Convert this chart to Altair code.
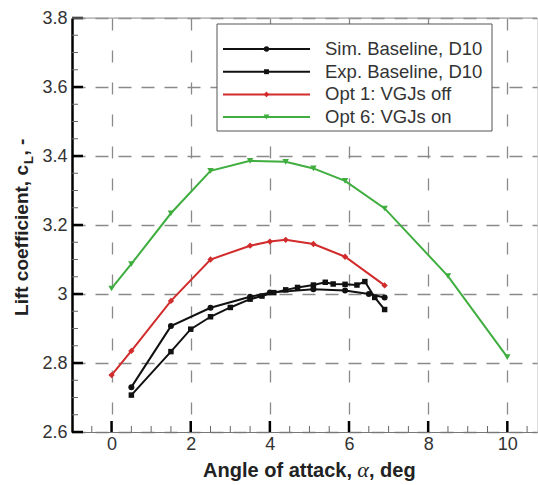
import altair as alt
import pandas as pd

# ---------------- data ----------------
series_names = ["Sim. Baseline, D10", "Exp. Baseline, D10", "Opt 1: VGJs off", "Opt 6: VGJs on"]
series_colors = ["#111111", "#111111", "#d22b2b", "#3fae3f"]
marker_shapes = ["circle", "square", "diamond", "triangle-down"]
marker_sizes = [36, 30, 40, 42]

sim_alpha = [0.5, 1.5, 2.5, 3.5, 4.0, 5.1, 5.9, 6.5, 6.9]
sim_cl = [2.73, 2.907, 2.96, 2.992, 3.004, 3.014, 3.01, 3.0, 2.99]

exp_alpha = [0.5, 1.5, 2.0, 2.5, 3.0, 3.5, 3.8, 4.1, 4.4, 4.7, 5.1, 5.4, 5.6, 5.9, 6.2, 6.4, 6.65, 6.9]
exp_cl = [2.707, 2.833, 2.898, 2.934, 2.961, 2.985, 2.994, 3.004, 3.012, 3.019, 3.026, 3.034,
          3.029, 3.028, 3.026, 3.036, 2.99, 2.955]

opt1_alpha = [0.0, 0.5, 1.5, 2.5, 3.5, 4.0, 4.4, 5.1, 5.9, 6.9]
opt1_cl = [2.765, 2.835, 2.98, 3.10, 3.14, 3.152, 3.157, 3.145, 3.108, 3.025]

opt6_alpha = [0.0, 0.5, 1.5, 2.5, 3.5, 4.4, 5.1, 5.9, 6.9, 8.5, 10.0]
opt6_cl = [3.016, 3.087, 3.234, 3.357, 3.386, 3.383, 3.364, 3.328, 3.248, 3.052, 2.817]

x_major = [0, 2, 4, 6, 8, 10]
x_minor = [-0.5, 0.5, 1, 1.5, 2.5, 3, 3.5, 4.5, 5, 5.5, 6.5, 7, 7.5, 8.5, 9, 9.5, 10.5]
y_major = [2.6, 2.8, 3.0, 3.2, 3.4, 3.6, 3.8]
y_minor = [2.65, 2.7, 2.75, 2.85, 2.9, 2.95, 3.05, 3.1, 3.15, 3.25, 3.3, 3.35,
           3.45, 3.5, 3.55, 3.65, 3.7, 3.75]

rows = []
for name, xs, ys in [(series_names[0], sim_alpha, sim_cl),
                     (series_names[1], exp_alpha, exp_cl),
                     (series_names[2], opt1_alpha, opt1_cl),
                     (series_names[3], opt6_alpha, opt6_cl)]:
    for a, c in zip(xs, ys):
        rows.append({"series": name, "alpha": a, "cl": c})
df = pd.DataFrame(rows)
legend_df = pd.DataFrame({"series": series_names, "row": list(range(len(series_names)))})

W, H = 465, 414
FONT = "Liberation Sans"

xscale = alt.Scale(domain=[-1, 10.75], nice=False, zero=False)
yscale = alt.Scale(domain=[2.6, 3.8], nice=False, zero=False)

x_axis = alt.Axis(values=x_major, title=None, ticks=False, labelPadding=3, labelFontSize=18,
                  labelFont=FONT, labelColor="#333", labelFlush=False, grid=True,
                  gridDash=[12, 20], gridColor="#8a8a8a", gridWidth=1.3,
                  domainColor="#777", domainWidth=1)
y_axis = alt.Axis(values=y_major, format="~g", title=None, ticks=False, labelPadding=5,
                  labelFontSize=18, labelFont=FONT, labelColor="#333", labelFlush=False,
                  grid=True, gridDash=[13, 10], gridColor="#8a8a8a", gridWidth=1.3,
                  domainColor="#000", domainWidth=2.5)

X = alt.X("alpha:Q", scale=xscale, axis=x_axis)
Y = alt.Y("cl:Q", scale=yscale, axis=y_axis)

stroke_scale = alt.Scale(domain=series_names, range=series_colors)

lines = alt.Chart(df).mark_line(strokeWidth=2).encode(
    x=X, y=Y,
    stroke=alt.Stroke("series:N", scale=stroke_scale, legend=None),
    detail="series:N",
)

point_layers = []
for name, col, shp, sz in zip(series_names, series_colors, marker_shapes, marker_sizes):
    point_layers.append(
        alt.Chart(df).transform_filter(alt.datum.series == name)
        .mark_point(filled=True, opacity=1, size=sz, shape=shp, color=col)
        .encode(x=X, y=Y)
    )

# inward tick marks
xmaj = alt.Chart(pd.DataFrame({"alpha": x_major})).mark_rule(color="#000", strokeWidth=2.5).encode(
    x=X, y=alt.value(H), y2=alt.value(H - 11))
xmin = alt.Chart(pd.DataFrame({"alpha": x_minor})).mark_rule(color="#666", strokeWidth=1).encode(
    x=X, y=alt.value(H), y2=alt.value(H - 6))
ymaj = alt.Chart(pd.DataFrame({"cl": y_major})).mark_rule(color="#000", strokeWidth=2.5).encode(
    y=Y, x=alt.value(0), x2=alt.value(11))
ymin = alt.Chart(pd.DataFrame({"cl": y_minor})).mark_rule(color="#666", strokeWidth=1).encode(
    y=Y, x=alt.value(0), x2=alt.value(6))

one = alt.Data(values=[{"k": 0}])
top_border = alt.Chart(one).mark_rule(color="#999", strokeWidth=1).encode(
    y=alt.value(0), x=alt.value(0), x2=alt.value(W))

# ---------------- legend (box, line samples, markers, labels) ----------------
ROW_Y = alt.value({"expr": "31 + datum.row * 22.7"})
leg_box = alt.Chart(one).mark_rect(fill="white", stroke="#555", strokeWidth=1).encode(
    x=alt.value(145), x2=alt.value(420), y=alt.value(6), y2=alt.value(113))
leg_lines = alt.Chart(legend_df).mark_rule(strokeWidth=2).encode(
    x=alt.value(151), x2=alt.value(238), y=ROW_Y,
    color=alt.Color("series:N", scale=alt.Scale(domain=series_names, range=series_colors), legend=None))
leg_marks = []
for name, col, shp, sz in zip(series_names, series_colors, marker_shapes, marker_sizes):
    leg_marks.append(
        alt.Chart(legend_df).transform_filter(alt.datum.series == name)
        .mark_point(filled=True, opacity=1, size=sz * 0.8, shape=shp, color=col)
        .encode(x=alt.value(194.5), y=ROW_Y)
    )
leg_text = alt.Chart(legend_df).mark_text(font=FONT, fontSize=18.5, color="#333", align="left",
                                          baseline="middle").encode(
    x=alt.value(253), y=ROW_Y, text="series:N")

# ---------------- axis titles ----------------
TC = "#222"
xt1 = alt.Chart(one).mark_text(text="Angle of attack,", font=FONT, fontSize=20, fontWeight="bold",
                               align="right", baseline="alphabetic", color=TC).encode(
    x=alt.value(280), y=alt.value(459))
xt2 = alt.Chart(one).mark_text(text="α", font="Liberation Serif", fontSize=22, fontStyle="italic",
                               align="center", baseline="alphabetic", color=TC).encode(
    x=alt.value(291), y=alt.value(459))
xt3 = alt.Chart(one).mark_text(text=", deg", font=FONT, fontSize=20, fontWeight="bold",
                               align="left", baseline="alphabetic", color=TC).encode(
    x=alt.value(297), y=alt.value(459))

yt1 = alt.Chart(one).mark_text(text="Lift coefficient, c", font=FONT, fontSize=19, fontWeight="bold",
                               align="right", baseline="alphabetic", angle=270, color=TC).encode(
    x=alt.value(-44), y=alt.value(147))
yt2 = alt.Chart(one).mark_text(text="L", font=FONT, fontSize=13, fontWeight="bold",
                               align="left", baseline="alphabetic", angle=270, color=TC).encode(
    x=alt.value(-39), y=alt.value(146))
yt3 = alt.Chart(one).mark_text(text=", -", font=FONT, fontSize=19, fontWeight="bold",
                               align="left", baseline="alphabetic", angle=270, color=TC).encode(
    x=alt.value(-44), y=alt.value(137.5))

chart = alt.layer(
    lines, *point_layers, xmin, xmaj, ymin, ymaj, top_border,
    leg_box, leg_lines, *leg_marks, leg_text,
    xt1, xt2, xt3, yt1, yt2, yt3
).properties(
    width=W, height=H,
    autosize=alt.AutoSizeParams(type="none"),
    padding={"left": 72, "top": 18, "right": 1, "bottom": 53},
).configure_view(stroke=None).configure(background="white")

chart.save("out.html", embed_options={"renderer": "svg", "actions": False})
